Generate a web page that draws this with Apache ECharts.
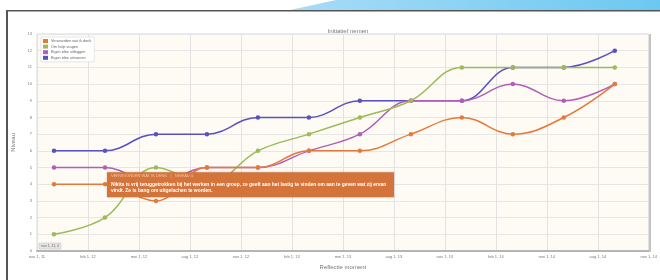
<!DOCTYPE html>
<html><head><meta charset="utf-8">
<script src="https://cdn.jsdelivr.net/npm/echarts@6/dist/echarts.min.js"></script>
<style>html,body{margin:0;padding:0;background:#fff}#c{width:660px;height:280px}</style>
</head><body><div id="c"></div>
<script>
// ---- data ----
var tickLabels = ['nov 1, 11','feb 1, 12','mei 1, 12','aug 1, 12','nov 1, 12','feb 1, 13','mei 1, 13','aug 1, 13','nov 1, 13','feb 1, 14','mei 1, 14','aug 1, 14','nov 1, 14'];
var reflectionMonths = [1, 4, 7, 10, 13, 16, 19, 22, 25, 28, 31, 34]; // months after nov 1, 2011
var seriesNames = ['Verwoorden wat ik denk','Om hulp vragen','Eigen idee uitleggen','Eigen idee uitvoeren'];
var verwoorden = [4, 4, 3, 5, 5, 6, 6, 7, 8, 7, 8, 10];
var hulpVragen = [1, 2, 5, 4, 6, 7, 8, 9, 11, 11, 11, 11];
var uitleggen  = [5, 5, 4, 5, 5, 6, 7, 9, 9, 10, 9, 10];
var uitvoeren  = [6, 6, 7, 7, 8, 8, 9, 9, 9, 11, 11, 12];
var colors = ['#e5793b','#9bbb59','#b05fb6','#5b50c0'];
var tipHeader = 'VERWOORDEN WAT IK DENK   |   NIVEAU 4';
var tipLines = ['Nikita is vrij teruggetrokken bij het werken in een groep, ze geeft aan het lastig te vinden om aan te geven wat zij ervan',
                'vindt. Ze is bang om uitgelachen te worden.'];
var cursorLabel = 'nov 1, 11, 4';

function pairs(vals){ return vals.map(function(v,i){ return [reflectionMonths[i], v]; }); }
var allVals = [verwoorden, hulpVragen, uitleggen, uitvoeren];

var chart = echarts.init(document.getElementById('c'), null, {renderer:'canvas'});
var font = 'Arial, "Liberation Sans", sans-serif';
var option = {
  animation: false,
  color: colors,
  textStyle: {fontFamily: font},
  title: {text: 'Initiatief nemen', left: 343, top: 23, textAlign: 'center',
    textStyle: {fontSize: 6, color: '#777', fontWeight: 'normal', fontFamily: font}},
  legend: {
    data: seriesNames, orient: 'vertical', left: 41, top: 37,
    icon: 'rect', itemWidth: 5, itemHeight: 4, itemGap: 1.6,
    backgroundColor: '#fff', borderColor: '#d8d8d8', borderWidth: 0.6, padding: [2, 3, 2, 2],
    textStyle: {fontSize: 3.8, color: '#666', padding: [0,0,0,-2]}
  },
  grid: {left: 37, right: 10, top: 34, bottom: 29, show: true, backgroundColor: '#fdfbf3', borderColor: '#d9d9d9', borderWidth: 1},
  xAxis: {
    type: 'value', min: 0, max: 36, interval: 3,
    name: 'Reflectie moment', nameLocation: 'middle', nameGap: 11,
    nameTextStyle: {fontSize: 6, color: '#777'},
    axisLine: {show: true, lineStyle: {color: '#b5b5b5', width: 2}},
    axisTick: {show: false},
    axisLabel: {fontSize: 4, color: '#777', margin: 4, formatter: function(v){ return tickLabels[Math.round(v/3)] || ''; }},
    splitLine: {show: true, lineStyle: {color: '#e2e2e2', width: 1}}
  },
  yAxis: {
    type: 'value', min: 0, max: 13, interval: 1,
    name: 'Niveau', nameLocation: 'middle', nameGap: 14,
    nameTextStyle: {fontSize: 6, color: '#777'},
    axisLine: {show: false}, axisTick: {show: false},
    axisLabel: {fontSize: 4, color: '#777', margin: 5},
    splitLine: {show: true, lineStyle: {color: '#e6e6e6', width: 1}}
  },
  series: seriesNames.map(function(n, i){
    return {name: n, type: 'line', smooth: 0.4, data: pairs(allVals[i]),
      symbol: 'circle', symbolSize: 4.5, showSymbol: true,
      lineStyle: {width: 1.5, color: colors[i]}, itemStyle: {color: colors[i], borderWidth: 0}, z: 3 + (3 - i),
      emphasis: {disabled: true}};
  })
};
chart.setOption(option);

var p = chart.convertToPixel({gridIndex: 0}, [reflectionMonths[1], verwoorden[1]]);
var bx = p[0] + 2, by = p[1] - 12;
chart.setOption({graphic: [
  // frame
  {type: 'rect', shape: {x: 6, y: 10, width: 2, height: 270}, style: {fill: '#555'}, z: 100},
  {type: 'rect', shape: {x: 6, y: 10, width: 654, height: 1.5}, style: {fill: '#555'}, z: 100},
  {type: 'polygon', shape: {points: [[290, 10], [336, 0], [660, 0], [660, 10]]},
    style: {fill: new echarts.graphic.LinearGradient(0, 0, 1, 0, [{offset: 0, color: '#a8dcf6'}, {offset: 1, color: '#6cc8f1'}])}, z: 99},
  // plot right shadow
  {type: 'rect', shape: {x: 649, y: 34, width: 2, height: 218}, style: {fill: '#c4c4c4'}, z: 2},
  // cursor label
  {type: 'rect', shape: {x: 39, y: 243, width: 22, height: 6}, style: {fill: '#e6e6e6', stroke: '#bdbdbd', lineWidth: 0.5}, z: 20},
  {type: 'text', x: 50, y: 246, style: {text: cursorLabel, fontSize: 3.5, fill: '#666', align: 'center', verticalAlign: 'middle', fontFamily: font}, z: 21},
  // tooltip
  {type: 'rect', shape: {x: bx, y: by, width: 287, height: 25}, style: {fill: '#d4733a', shadowBlur: 2, shadowColor: 'rgba(0,0,0,0.2)'}, z: 50},
  {type: 'text', x: bx + 4, y: by + 4, style: {text: tipHeader, fontSize: 4, fill: '#f6c9a8', verticalAlign: 'middle', fontFamily: font}, z: 51},
  {type: 'text', x: bx + 4, y: by + 12, style: {text: tipLines[0], fontSize: 4.9, fill: '#fff', fontWeight: 'bold', verticalAlign: 'middle', fontFamily: font}, z: 51},
  {type: 'text', x: bx + 4, y: by + 18.5, style: {text: tipLines[1], fontSize: 4.9, fill: '#fff', fontWeight: 'bold', verticalAlign: 'middle', fontFamily: font}, z: 51}
]});
</script></body></html>
